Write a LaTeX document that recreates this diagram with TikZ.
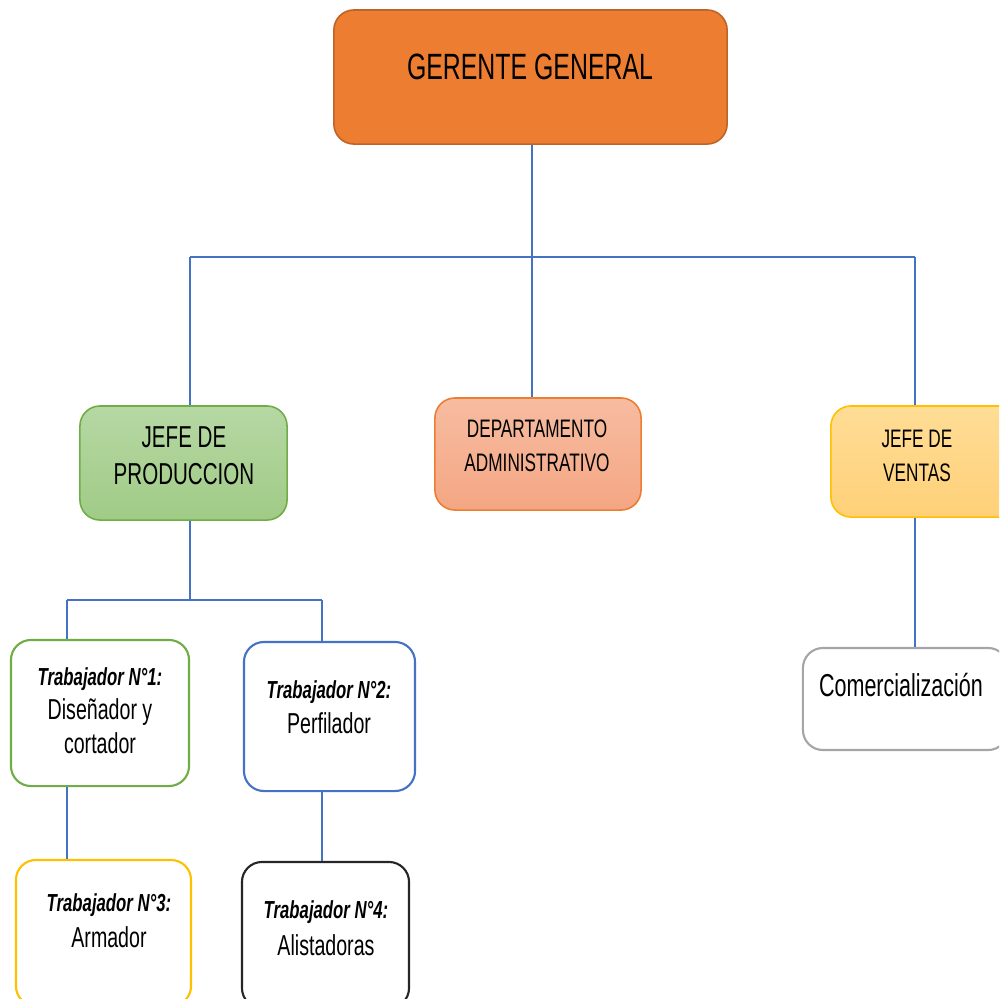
\documentclass[tikz,border=0pt]{standalone}
\usepackage{fontspec}
\setmainfont[FakeStretch=0.68]{Liberation Sans}
\usepackage{tikz}
\usetikzlibrary{positioning}
\definecolor{ogBlue}    {RGB}{ 68,114,196}
\definecolor{ogOrange}  {RGB}{237,125, 49}
\definecolor{ogGreen}   {RGB}{112,173, 71}
\definecolor{ogGold}    {RGB}{255,192,  0}
\definecolor{ogGray}    {RGB}{165,165,165}
\definecolor{ogDark}    {RGB}{ 38, 38, 38}

\begin{document}
\begin{tikzpicture}[
  x=0.01cm, y=-0.01cm,
  every node/.style={inner sep=0pt},
  box/.style={draw, rounded corners=0.2cm, line width=0.45pt},
  wbox/.style={box, fill=white, line width=0.6pt},
  link/.style={draw=ogBlue, line width=0.45pt},
  txt/.style={align=center, text=black}
]
\clip (0,0) rectangle (999,999);
% Boxes
\node[box, draw=ogOrange!80!black, fill=ogOrange,
      minimum width=3.93cm, minimum height=1.34cm] (gg) at (530.5,77) {};
\node[box, draw=ogGreen, top color={rgb,255:red,182;green,216;blue,164},
      bottom color={rgb,255:red,160;green,203;blue,134},
      minimum width=2.07cm, minimum height=1.14cm] (prod) at (183.5,463) {};
\node[box, draw=ogOrange, top color={rgb,255:red,247;green,188;blue,161},
      bottom color={rgb,255:red,244;green,166;blue,131},
      minimum width=2.06cm, minimum height=1.12cm] (depto) at (538,454) {};
\node[box, draw=ogGold, top color={rgb,255:red,255;green,221;blue,150},
      bottom color={rgb,255:red,255;green,208;blue,120},
      minimum width=2.07cm, minimum height=1.11cm] (ventas) at (934.5,461.5) {};
\node[wbox, draw=ogGray, minimum width=2.05cm, minimum height=1.02cm] (comer) at (905.5,699) {};
\node[wbox, draw=ogGreen, minimum width=1.78cm, minimum height=1.46cm] (t1) at (100,713) {};
\node[wbox, draw=ogBlue, minimum width=1.71cm, minimum height=1.49cm] (t2) at (329.5,716.5) {};
\node[wbox, draw=ogGold, minimum width=1.75cm, minimum height=1.46cm] (t3) at (103.5,933) {};
\node[wbox, draw=ogDark, minimum width=1.67cm, minimum height=1.46cm] (t4) at (325.5,935) {};
% Texts
\node[txt, font=\fontsize{10.4}{12}\selectfont] (gg-txt) at (530,67) {GERENTE GENERAL};
\node[txt, font=\fontsize{8.6}{10.5}\selectfont] (prod-txt) at (184,456) {JEFE DE\\PRODUCCION};
\node[txt, font=\fontsize{7.2}{9.7}\selectfont] (depto-txt) at (537,446) {DEPARTAMENTO\\ADMINISTRATIVO};
\node[txt, font=\fontsize{7.2}{9.7}\selectfont] (ventas-txt) at (917,456) {JEFE DE\\VENTAS};
\node[txt, font=\fontsize{9}{11}\selectfont] (comer-txt) at (901,685) {Comercialización};
\node[txt, font=\fontsize{8.2}{9.7}\selectfont] (t1-txt) at (100,711)
  {{\fontsize{7}{9.7}\selectfont\bfseries\itshape Trabajador N°1:}\\Diseñador y\\cortador};
\node[txt, font=\fontsize{8.2}{10}\selectfont] (t2-txt) at (329,707)
  {{\fontsize{7}{10}\selectfont\bfseries\itshape Trabajador N°2:}\\Perfilador};
\node[txt, font=\fontsize{8.2}{10.2}\selectfont] (t3-txt) at (109,921)
  {{\fontsize{7}{10.2}\selectfont\bfseries\itshape Trabajador N°3:}\\Armador};
\node[txt, font=\fontsize{8.2}{10.5}\selectfont] (t4-txt) at (326,928)
  {{\fontsize{7}{10.5}\selectfont\bfseries\itshape Trabajador N°4:}\\Alistadoras};
% Connectors
\coordinate (busL) at (190,257);
\coordinate (busR) at (915,257);
\coordinate (subL) at (67,600);
\coordinate (subR) at (322,600);
\draw[link] (gg.south -| 532,0) -- (depto.north -| 532,0);
\draw[link] (busL) -- (busR);
\draw[link] (busL) -- (busL |- prod.north);
\draw[link] (busR) -- (busR |- ventas.north);
\draw[link] (ventas.south -| busR) -- (comer.north -| busR);
\draw[link] (prod.south -| busL) -- (subL -| busL);
\draw[link] (subL) -- (subR);
\draw[link] (subL) -- (subL |- t1.north);
\draw[link] (subR) -- (subR |- t2.north);
\draw[link] (t1.south -| subL) -- (t3.north -| subL);
\draw[link] (t2.south -| subR) -- (t4.north -| subR);
\end{tikzpicture}
\end{document}
